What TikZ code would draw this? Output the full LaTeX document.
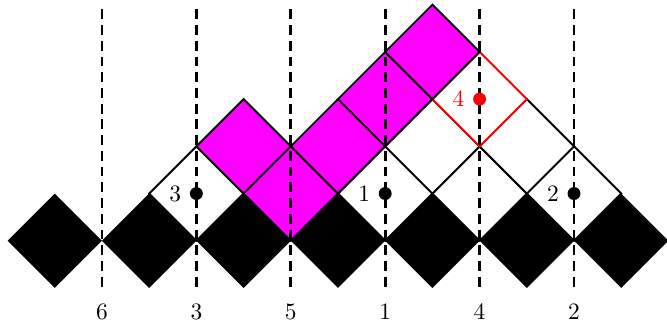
\documentclass[tikz,border=0pt]{standalone}
\usetikzlibrary{shapes.geometric}
\definecolor{fullmag}{RGB}{255,0,255}
\definecolor{fullred}{RGB}{255,0,0}

\begin{document}
\begin{tikzpicture}[
  x=0.7071cm, y=0.7071cm,
  cell/.style={diamond, aspect=1, inner sep=0pt, outer sep=0pt, minimum size=1.4142cm},
  blackcell/.style={cell, fill=black},
  whitecell/.style={cell, draw=black, fill=white, thick},
  magcell/.style={cell, draw=black, fill=fullmag, thick},
  redcell/.style={cell, draw=fullred, fill=white, thick},
  ghostcell/.style={cell, draw=white, thick},
  dot/.style={circle, fill=black, inner sep=0pt, minimum size=5.5pt},
  dashline/.style={black, very thick, dash pattern=on 4.2pt off 2.5pt}
]
  \useasboundingbox (-0.16,-0.74) rectangle (13.97,6.10);

  % ==========================================
  % 1. CELDAS FANTASMA (en blanco)
  % ==========================================
  \node[ghostcell] (g6) at (2,2) {};
  \node[ghostcell] (g5) at (6,4) {};
  \node[dot, fill=white, label={[white]left:$6$}] (p6) at (2,2) {};
  \node[dot, fill=white, label={[white]left:$5$}] (p5) at (6,4) {};

  % ==========================================
  % 2. FILA INFERIOR (rombos negros)
  % ==========================================
  \node[blackcell] (b1) at (1,1) {};
  \node[blackcell] (b2) at (3,1) {};
  \node[blackcell] (b3) at (5,1) {};
  \node[blackcell] (b4) at (7,1) {};
  \node[blackcell] (b5) at (9,1) {};
  \node[blackcell] (b6) at (11,1) {};
  \node[blackcell] (b7) at (13,1) {};

  % ==========================================
  % 3. CELDAS BLANCAS
  % ==========================================
  \node[whitecell] (w1) at (4,2) {};
  \node[whitecell] (w2) at (8,2) {};
  \node[whitecell] (w3) at (10,2) {};
  \node[whitecell] (w4) at (12,2) {};
  \node[whitecell] (w5) at (9,3) {};
  \node[whitecell] (w6) at (11,3) {};

  % celda roja
  \node[redcell] (r1) at (10,4) {};

  % ==========================================
  % 4. CELDAS MAGENTA
  % ==========================================
  \node[magcell] (m1) at (6,2) {};
  \node[magcell] (m2) at (5,3) {};
  \node[magcell] (m3) at (7,3) {};
  \node[magcell] (m4) at (8,4) {};
  \node[magcell] (m5) at (9,5) {};

  % ==========================================
  % 5. LINEAS PUNTEADAS Y ETIQUETAS
  % ==========================================
  \draw[dashline] (2,5.9) -- (2,-0.05);
  \draw[dashline] (4,5.9) -- (4,-0.05);
  \draw[dashline] (6,5.9) -- (6,-0.05);
  \draw[dashline] (8,5.9) -- (8,-0.05);
  \draw[dashline] (10,5.9) -- (10,-0.05);
  \draw[dashline] (12,5.9) -- (12,-0.05);

  \node (n6) at (2,-0.5) {$6$};
  \node (n3) at (4,-0.5) {$3$};
  \node (n5) at (6,-0.5) {$5$};
  \node (n1) at (8,-0.5) {$1$};
  \node (n4) at (10,-0.5) {$4$};
  \node (n2) at (12,-0.5) {$2$};

  % puntos
  \node[dot, label={left:$3$}] (p3) at (4,2) {};
  \node[dot, label={left:$1$}] (p1) at (8,2) {};
  \node[dot, label={left:$2$}] (p2) at (12,2) {};
  \node[dot, fill=fullred, label={[fullred]left:$4$}] (p4) at (10,4) {};

\end{tikzpicture}
\end{document}
